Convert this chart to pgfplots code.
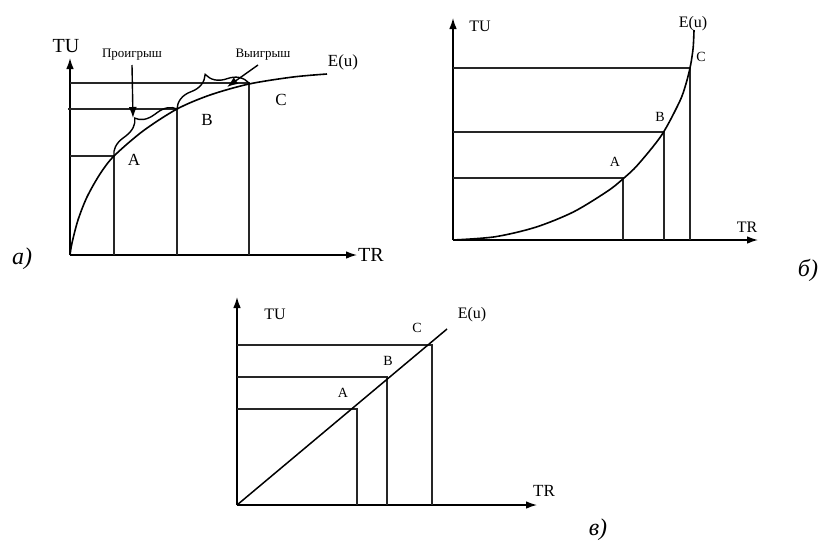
\documentclass[border=0pt]{standalone}
\usepackage{fontspec}
\setmainfont{Liberation Serif}
\usepackage{pgfplots}
\pgfplotsset{compat=1.18}
\usetikzlibrary{arrows.meta,decorations.pathreplacing}

\newcommand{\fs}[1]{\fontsize{#1}{#1}\selectfont}

\pgfplotsset{
  panel/.style={
    x=0.5pt, y=0.5pt, xmin=0, ymin=0, enlargelimits=false,
    anchor=origin, clip=false,
    axis lines=left,
    axis line style={line width=0.7pt, -{Latex[length=5.5pt,width=3.8pt]}},
    xtick=\empty, ytick=\empty,
    every axis plot/.append style={black, line width=0.7pt, no marks},
  },
  guide/.style={line width=0.7pt, black!85},
  curve/.style={line width=0.8pt, smooth},
}

\begin{document}
\begin{tikzpicture}
\path[use as bounding box] (0,0) rectangle (411pt,271.5pt);

% a) concave utility, risk averse
\begin{axis}[panel, xmax=287, ymax=197, at={(35pt,144pt)}]
\addplot[guide] coordinates {(0,99) (44,99) (44,0)};
\addplot[guide] coordinates {(-2,146) (107,146) (107,0)};
\addplot[guide] coordinates {(0,172) (179,172) (179,0)};
\addplot[curve] coordinates {
  (0,0) (2,12) (8,35) (17,58) (30,81) (44,99) (73,124)
  (107,146) (140,160) (179,171) (223,178) (257,181)};
\addplot[decorate, decoration={brace, amplitude=9pt}] coordinates {(44,99) (107,146)};
\addplot[decorate, decoration={brace, amplitude=11.5pt}] coordinates {(107,146) (179,172)};
\addplot[-{Latex[length=5.5pt,width=4pt]}] coordinates {(62,190) (63,137)};
\addplot[-{Latex[length=5.5pt,width=4pt]}] coordinates {(188,190) (157,168)};
\node[font=\fs{10}] at (axis cs:-4,209) {TU};
\node[font=\fs{10}] at (axis cs:301,0) {TR};
\node[font=\fs{6.5}] at (axis cs:62,200) {Проигрыш};
\node[font=\fs{6.5}] at (axis cs:193,200) {Выигрыш};
\node[font=\fs{8.5}] at (axis cs:273,193) {E(u)};
\node[font=\fs{8.5}] at (axis cs:64,95) {A};
\node[font=\fs{8.5}] at (axis cs:137,135) {B};
\node[font=\fs{8.5}] at (axis cs:211,155) {C};
\node[font=\fs{12}\itshape] at (axis cs:-48,-4) {а)};
\end{axis}

% b) convex utility, risk loving
\begin{axis}[panel, xmax=305, ymax=222, at={(226.5pt,151.5pt)}]
\addplot[guide] coordinates {(0,62) (170,62) (170,0)};
\addplot[guide] coordinates {(0,108) (211,108) (211,0)};
\addplot[guide] coordinates {(0,172) (237,172) (237,0)};
\addplot[curve] coordinates {
  (0,0) (41.8,3.2) (82.4,12.7) (120.5,28.1) (154.9,49.1)
  (170.4,61.5) (184.6,75.0) (208.7,105.0) (226.5,138.2)
  (232.8,155.6) (237.3,173.5) (240.1,191.7) (241,210)};
\node[font=\fs{8}] at (axis cs:27,214) {TU};
\node[font=\fs{8}] at (axis cs:294,13) {TR};
\node[font=\fs{8}] at (axis cs:240,216) {E(u)};
\node[font=\fs{7}] at (axis cs:162,78) {A};
\node[font=\fs{7}] at (axis cs:207,123) {B};
\node[font=\fs{7}] at (axis cs:248,183) {C};
\node[font=\fs{12}\itshape] at (axis cs:355,-30) {б)};
\end{axis}

% c) linear utility, risk neutral
\begin{axis}[panel, xmax=300, ymax=208, at={(118.5pt,19pt)}]
\addplot[guide] coordinates {(0,96) (120,96) (120,0)};
\addplot[guide] coordinates {(0,128) (150,128) (150,0)};
\addplot[guide] coordinates {(0,160) (195,160) (195,0)};
\addplot[line width=0.75pt] coordinates {(0,0) (210,176)};
\node[font=\fs{8}] at (axis cs:38,191) {TU};
\node[font=\fs{8.5}] at (axis cs:307,14) {TR};
\node[font=\fs{8}] at (axis cs:235,190) {E(u)};
\node[font=\fs{7}] at (axis cs:106,112) {A};
\node[font=\fs{7}] at (axis cs:151,144) {B};
\node[font=\fs{7}] at (axis cs:180,177) {C};
\node[font=\fs{12}\itshape] at (axis cs:361,-25) {в)};
\end{axis}
\end{tikzpicture}
\end{document}
